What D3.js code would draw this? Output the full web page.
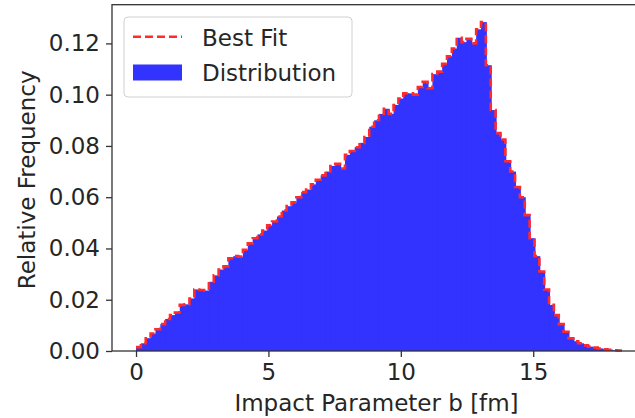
<!DOCTYPE html>
<html>
<head>
<meta charset="utf-8">
<script src="https://cdn.jsdelivr.net/npm/d3@7"></script>
<style>
  html, body { margin: 0; padding: 0; background: #fff; }
  svg { display: block; font-family: "DejaVu Sans", sans-serif; }
</style>
</head>
<body>
<svg id="chart" width="635" height="418"></svg>
<script>
// ---- data ----
const binStart = 0;
const binEnd = 18.35;
const relFreq = [
  0.0015, 0.0030, 0.0050, 0.0068, 0.0085, 0.0105, 0.0125, 0.0140, 0.0150, 0.0180,
  0.0182, 0.0205, 0.0240, 0.0238, 0.0236, 0.0270, 0.0295, 0.0318, 0.0330, 0.0362,
  0.0370, 0.0368, 0.0395, 0.0420, 0.0440, 0.0455, 0.0470, 0.0490, 0.0505, 0.0525,
  0.0548, 0.0565, 0.0580, 0.0600, 0.0620, 0.0630, 0.0650, 0.0668, 0.0685, 0.0700,
  0.0722, 0.0730, 0.0712, 0.0765, 0.0780, 0.0795, 0.0812, 0.0835, 0.0875, 0.0900,
  0.0925, 0.0945, 0.0925, 0.0960, 0.0985, 0.1005, 0.1005, 0.1000, 0.1030, 0.1050,
  0.1025, 0.1080, 0.1090, 0.1120, 0.1150, 0.1180, 0.1222, 0.1205, 0.1218, 0.1200,
  0.1255, 0.1283, 0.1115, 0.0940, 0.0850, 0.0825, 0.0740, 0.0700, 0.0640, 0.0600,
  0.0530, 0.0440, 0.0370, 0.0310, 0.0240, 0.0180, 0.0140, 0.0105, 0.0075, 0.0050,
  0.0038, 0.0030, 0.0022, 0.0017, 0.0013, 0.0010, 0.0007, 0.0005, 0.0003, 0.0002
];
const fitValues = relFreq.slice(); // best-fit curve drawn as a step line over the bins
const xTicks = [0, 5, 10, 15];
const yTicks = [0.00, 0.02, 0.04, 0.06, 0.08, 0.10, 0.12];
const legendLabels = ["Best Fit", "Distribution"];
const xLabel = "Impact Parameter b [fm]";
const yLabel = "Relative Frequency";

// ---- layout ----
const svg = d3.select("#chart");
const mLeft = 112, mRight = 641, mTop = 4.7, mBottom = 351;
const FS = 23;
const textColor = "#262626";

const x = d3.scaleLinear().domain([-0.907, 19.07]).range([mLeft, mRight]);
const y = d3.scaleLinear().domain([0, 0.1351]).range([mBottom, mTop]);

const nBins = relFreq.length;
const bw = (binEnd - binStart) / nBins;
const bins = relFreq.map((v, i) => ({ x0: binStart + i * bw, x1: binStart + (i + 1) * bw, v, last: i === nBins - 1 }));

// bars
svg.append("g").selectAll("rect").data(bins).join("rect")
  .attr("x", d => x(d.x0))
  .attr("y", d => y(d.v))
  .attr("width", d => x(d.x1) - x(d.x0) + (d.last ? 0 : 1))
  .attr("height", d => y(0) - y(d.v))
  .attr("fill", "rgb(51,51,255)");

// fit line (step)
const fitPts = fitValues.map((v, i) => [binStart + i * bw, v]);
fitPts.push([binEnd, fitValues[fitValues.length - 1]]);
svg.append("path")
  .datum(fitPts)
  .attr("fill", "none")
  .attr("stroke", "#ff2a2a")
  .attr("stroke-width", 2.6)
  .attr("stroke-dasharray", "8,4")
  .attr("d", d3.line().x(d => x(d[0])).y(d => y(d[1])).curve(d3.curveStepAfter));

// axes
const xAxis = d3.axisBottom(x).tickValues(xTicks).tickFormat(d3.format("d"))
  .tickSize(6).tickSizeOuter(0).tickPadding(7);
const gx = svg.append("g").attr("transform", `translate(0,${mBottom})`).call(xAxis);
const yAxis = d3.axisLeft(y).tickValues(yTicks).tickFormat(d3.format(".2f"))
  .tickSize(6).tickSizeOuter(0).tickPadding(6);
const gy = svg.append("g").attr("transform", `translate(${mLeft},0)`).call(yAxis);
[gx, gy].forEach(g => {
  g.select(".domain").remove();
  g.selectAll(".tick line").attr("stroke", "#333").attr("stroke-width", 1.3);
  g.selectAll(".tick text").attr("fill", textColor).style("font-size", FS + "px")
    .style("font-family", "DejaVu Sans");
});

// spines
svg.append("rect")
  .attr("x", mLeft).attr("y", mTop)
  .attr("width", mRight - mLeft).attr("height", mBottom - mTop)
  .attr("fill", "none").attr("stroke", "#333").attr("stroke-width", 1.3);

// axis labels
svg.append("text")
  .attr("x", (mLeft + mRight) / 2).attr("y", 411)
  .attr("text-anchor", "middle").attr("fill", textColor)
  .style("font-size", FS + "px").text(xLabel);
svg.append("text")
  .attr("transform", `translate(34.5,${(mTop + mBottom) / 2 + 2}) rotate(-90)`)
  .attr("text-anchor", "middle").attr("fill", textColor)
  .style("font-size", FS + "px").text(yLabel);

// legend
const lg = svg.append("g");
lg.append("rect")
  .attr("x", 124).attr("y", 17).attr("width", 228).attr("height", 80)
  .attr("rx", 4).attr("fill", "white").attr("fill-opacity", 0.8)
  .attr("stroke", "#d0d0d0").attr("stroke-width", 1);
lg.append("line")
  .attr("x1", 133).attr("x2", 182).attr("y1", 36.7).attr("y2", 36.7)
  .attr("stroke", "#ff2a2a").attr("stroke-width", 2.6).attr("stroke-dasharray", "8,4");
lg.append("rect")
  .attr("x", 133).attr("y", 64.5).attr("width", 49).attr("height", 16)
  .attr("fill", "rgb(51,51,255)");
lg.selectAll("text.lab").data(legendLabels).join("text")
  .attr("class", "lab")
  .attr("x", 202).attr("y", (d, i) => i === 0 ? 45.5 : 80.5)
  .attr("fill", textColor).style("font-size", FS + "px")
  .text(d => d);
</script>
</body>
</html>
